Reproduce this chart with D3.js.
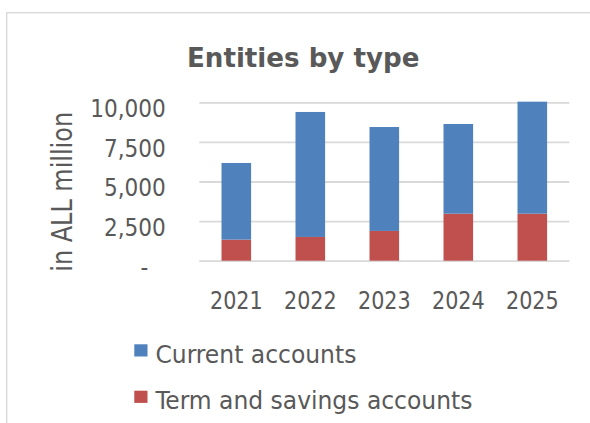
<!DOCTYPE html>
<html>
<head>
<meta charset="utf-8">
<script src="https://cdn.jsdelivr.net/npm/d3@7"></script>
<style>
  body { margin: 0; background: #fff; }
  text { font-family: "DejaVu Sans Condensed", "DejaVu Sans", sans-serif; fill: #595959; }
</style>
</head>
<body>
<svg id="chart" width="590" height="423"></svg>
<script>
// Entities by type, in ALL million
const years = ["2021", "2022", "2023", "2024", "2025"];
const currentAccounts = [4840, 7890, 6560, 5660, 7070];
const termSavings = [1330, 1500, 1880, 2970, 2970];
const yTicks = [0, 2500, 5000, 7500, 10000];
const seriesNames = ["Current accounts", "Term and savings accounts"];
const seriesColors = ["#4F81BD", "#C0504D"];

const svg = d3.select("#chart");

// outer chart frame
svg.append("rect")
  .attr("x", 6.7).attr("y", 12.7)
  .attr("width", 640).attr("height", 500)
  .attr("fill", "none").attr("stroke", "#d9d9d9").attr("stroke-width", 1.4);

const plot = { left: 199.3, right: 569.3, top: 102.3, bottom: 260.7 };

const x = d3.scaleBand()
  .domain(years)
  .range([plot.left, plot.right])
  .paddingInner(0.6)
  .paddingOuter(0.3);

const y = d3.scaleLinear()
  .domain([0, 10000])
  .range([plot.bottom, plot.top]);

// gridlines
const grid = svg.append("g")
  .attr("transform", `translate(${plot.left},0)`)
  .call(d3.axisLeft(y).tickValues(yTicks).tickSize(-(plot.right - plot.left)).tickFormat(""));
grid.select(".domain").remove();
grid.selectAll(".tick line").attr("stroke", "#d9d9d9").attr("stroke-width", 1.8);

// stacked bars: term & savings at the bottom, current accounts on top
const rows = years.map((yr, i) => ({ year: yr, term: termSavings[i], current: currentAccounts[i] }));
const stack = d3.stack().keys(["term", "current"]);
const layers = stack(rows);
const colorByKey = { term: seriesColors[1], current: seriesColors[0] };

svg.append("g").selectAll("g")
  .data(layers)
  .join("g")
  .attr("fill", d => colorByKey[d.key])
  .selectAll("rect")
  .data(d => d)
  .join("rect")
  .attr("x", d => x(d.data.year))
  .attr("width", x.bandwidth())
  .attr("y", d => y(d[1]))
  .attr("height", d => y(d[0]) - y(d[1]));

// y tick labels (accounting style: zero shown as a dash)
const fmt = d3.format(",");
const yAxis = svg.append("g")
  .attr("transform", `translate(${plot.left},0)`)
  .call(d3.axisLeft(y).tickValues(yTicks).tickSize(0).tickPadding(33.5)
    .tickFormat(d => d === 0 ? "-" : fmt(d)));
yAxis.select(".domain").remove();
yAxis.selectAll("text")
  .attr("font-size", 24)
  .attr("dy", 14.4)
  .attr("dx", d => d === 0 ? -17.5 : 0)
  .style("font-family", null)
  .attr("font-family", null)
  .attr("fill", "#595959");

// x labels
const xAxis = svg.append("g")
  .attr("transform", `translate(0,${plot.bottom})`)
  .call(d3.axisBottom(x).tickSize(0).tickPadding(0));
xAxis.select(".domain").remove();
xAxis.selectAll("text")
  .attr("font-size", 25)
  .attr("y", 48.3)
  .attr("dy", 0)
  .attr("textLength", 52.7)
  .attr("lengthAdjust", "spacingAndGlyphs")
  .attr("font-family", null)
  .attr("fill", "#595959");
svg.selectAll("g").attr("font-family", null);

// title
svg.append("text")
  .attr("x", 303.2).attr("y", 66.7)
  .attr("text-anchor", "middle")
  .attr("font-size", 27).attr("font-weight", "bold")
  .attr("textLength", 232.5).attr("lengthAdjust", "spacingAndGlyphs")
  .text("Entities by type");

// y axis title
svg.append("text")
  .attr("transform", "translate(71.7,191.8) rotate(-90)")
  .attr("text-anchor", "middle")
  .attr("font-size", 28)
  .attr("textLength", 159.7).attr("lengthAdjust", "spacingAndGlyphs")
  .text("in ALL million");

// legend
const legend = svg.append("g");
const legendRows = [
  { name: seriesNames[0], color: seriesColors[0], top: 344.3, base: 363.3, len: 201 },
  { name: seriesNames[1], color: seriesColors[1], top: 390.7, base: 409.3, len: 317 }
];
legendRows.forEach(r => {
  legend.append("rect")
    .attr("x", 134.3).attr("y", r.top)
    .attr("width", 13.2).attr("height", 12.2)
    .attr("fill", r.color);
  legend.append("text")
    .attr("x", 155.4).attr("y", r.base)
    .attr("font-size", 25)
    .attr("textLength", r.len).attr("lengthAdjust", "spacingAndGlyphs")
    .text(r.name);
});
</script>
</body>
</html>
